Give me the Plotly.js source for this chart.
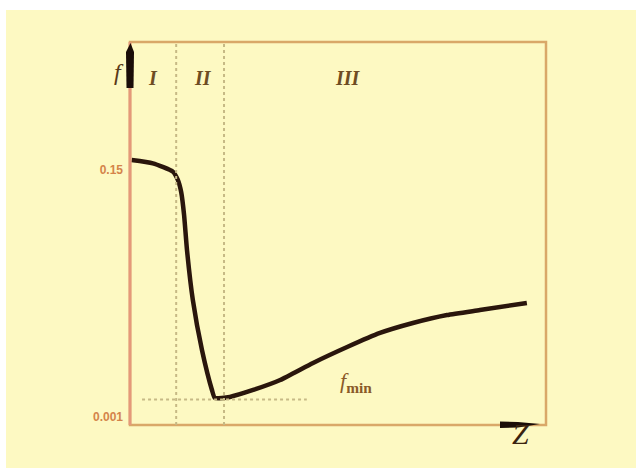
<!DOCTYPE html>
<html>
<head>
<meta charset="utf-8">
<script src="https://cdn.plot.ly/plotly-3.0.1.min.js"></script>
<style>
  html, body { margin: 0; padding: 0; background: #ffffff; }
  #wrap { position: absolute; left: 0; top: 0; width: 636px; height: 468px; overflow: hidden; }
  #bg { position: absolute; left: 6px; top: 10px; right: 0; bottom: 0; background: #fdf9c2; }
  #chart { position: absolute; left: 0; top: 0; width: 636px; height: 468px; }
</style>
</head>
<body>
<div id="wrap">
  <div id="bg"></div>
  <div id="chart"></div>
</div>
<script>
// Stribeck-type curve: friction coefficient f versus Z (schematic units)
const zValues = [0.4, 5.5, 10.3, 11.5, 12.3, 13.0, 13.7, 15.1, 17.3, 19.7, 20.4, 24.0, 29.6, 36.1, 44.0, 52.2, 60.1, 68.0, 76.2, 84.1, 95.4];
const fValues = [0.156, 0.154, 0.149, 0.144, 0.1367, 0.1228, 0.1017, 0.0716, 0.0414, 0.0173, 0.0125, 0.0131, 0.0173, 0.0233, 0.0336, 0.0432, 0.0517, 0.0577, 0.0625, 0.0655, 0.0698];

// regime boundaries (Z) and minimum friction level
const regionBounds = [11.1, 22.6];
const regionLabels = ['I', 'II', 'III'];
const regionLabelZ = [5.5, 17.5, 52.4];
const fMin = 0.0115;
const fMinLineZ = [2.9, 42.5];

const yTickVals = [0.001, 0.15];
const yTickText = ['0.001', '0.15'];

const xRange = [0, 100];
const yRange = [-0.00383, 0.2272];

const frameColor = '#d9a868';
const dotColor = '#c6b985';
const labelColor = '#6e4c22';

const shapes = [];
// frame
shapes.push({type: 'rect', xref: 'paper', yref: 'paper', x0: 0, x1: 1, y0: 0, y1: 1,
  line: {color: frameColor, width: 2.5}, layer: 'below'});
// left axis line (pinkish)
shapes.push({type: 'line', xref: 'paper', yref: 'paper', x0: 0, x1: 0, y0: 0, y1: 1,
  line: {color: '#e4997a', width: 3}});
// region boundaries
regionBounds.forEach(z => shapes.push({type: 'line', xref: 'x', yref: 'paper', x0: z, x1: z, y0: 0, y1: 1,
  line: {color: dotColor, width: 2, dash: 'dot'}}));
// f_min level
shapes.push({type: 'line', xref: 'x', yref: 'y', x0: fMinLineZ[0], x1: fMinLineZ[1], y0: fMin, y1: fMin,
  line: {color: dotColor, width: 2, dash: 'dot'}});
// axis arrows (paper coords: px -> (px-130)/416, py -> (425-py)/383)
function px(x) { return (x - 130) / 416; }
function py(y) { return (425 - y) / 383; }
shapes.push({type: 'path', xref: 'paper', yref: 'paper',
  path: `M ${px(126.5)} ${py(88)} L ${px(133.5)} ${py(88)} L ${px(134)} ${py(52)} L ${px(130.5)} ${py(43)} L ${px(126)} ${py(52)} Z`,
  fillcolor: '#1a0d08', line: {width: 0}});
shapes.push({type: 'path', xref: 'paper', yref: 'paper',
  path: `M ${px(500)} ${py(421.5)} L ${px(518)} ${py(422)} L ${px(540)} ${py(424)} L ${px(518)} ${py(427.5)} L ${px(500)} ${py(428)} Z`,
  fillcolor: '#1a0d08', line: {width: 0}});

const annotations = [];
regionLabels.forEach((t, i) => annotations.push({
  x: regionLabelZ[i], y: 0.2055, xref: 'x', yref: 'y', text: '<b><i>' + t + '</i></b>', showarrow: false,
  font: {family: 'Liberation Serif, DejaVu Serif, serif', size: 20, color: labelColor}
}));
annotations.push({x: px(112), y: py(57), xref: 'paper', yref: 'paper', text: '<i>f</i>', showarrow: false,
  font: {family: 'Liberation Serif, DejaVu Serif, serif', size: 24, color: '#5a3a18'}});
annotations.push({x: px(531), y: py(452), xref: 'paper', yref: 'paper', text: '<i>Z</i>', showarrow: false,
  font: {family: 'Liberation Serif, DejaVu Serif, serif', size: 30, color: '#3a2410'}});
annotations.push({x: px(356), y: py(398), xref: 'paper', yref: 'paper', text: '<i>f</i><sub><b>min</b></sub>', showarrow: false,
  font: {family: 'Liberation Serif, DejaVu Serif, serif', size: 22, color: '#8a5a28'}});

const trace = {
  x: zValues, y: fValues, type: 'scatter', mode: 'lines',
  line: {color: '#2a160c', width: 4.5, shape: 'spline', smoothing: 0.5},
  hoverinfo: 'skip'
};

const layout = {
  width: 636, height: 468,
  margin: {l: 130, r: 90, t: 42, b: 43},
  paper_bgcolor: 'rgba(0,0,0,0)', plot_bgcolor: 'rgba(0,0,0,0)',
  showlegend: false,
  xaxis: {range: xRange, showgrid: false, zeroline: false, showticklabels: false, ticks: '', showline: false, fixedrange: true},
  yaxis: {range: yRange, showgrid: false, zeroline: false, tickvals: yTickVals, ticktext: yTickText, ticks: '',
    ticklabelstandoff: 6, showline: false, fixedrange: true,
    tickfont: {family: 'Liberation Sans, Arial, sans-serif', size: 12, weight: 'bold', color: '#d4844a'}},
  shapes: shapes,
  annotations: annotations
};

Plotly.newPlot('chart', [trace], layout, {displayModeBar: false, staticPlot: true});
</script>
</body>
</html>
